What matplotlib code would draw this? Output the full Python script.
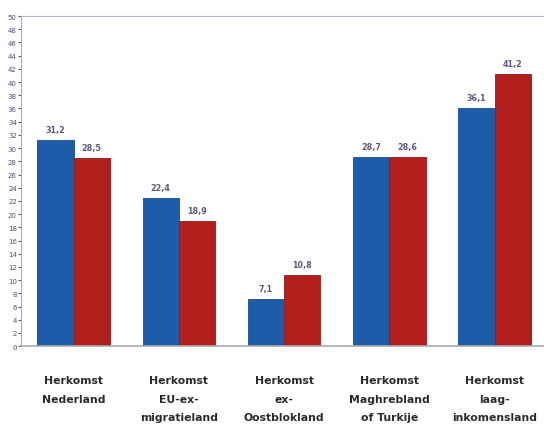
import numpy as np
import matplotlib.pyplot as plt

categories = ['Herkomst\nNederland', 'Herkomst\nEU-ex-\nmigratieland', 'Herkomst\nex-\nOostblokland',
              'Herkomst\nMaghrebland\nof Turkije', 'Herkomst\nlaag-\ninkomensland']
blue_vals = [31.2, 22.4, 7.1, 28.7, 36.1]
red_vals = [28.5, 18.9, 10.8, 28.6, 41.2]
blue_labels = ['31,2', '22,4', '7,1', '28,7', '36,1']
red_labels = ['28,5', '18,9', '10,8', '28,6', '41,2']

fig = plt.figure(figsize=(5.44, 4.27), dpi=100)
ax = fig.add_axes([0.0386, 0.187, 0.9614, 0.773])

x = np.arange(len(categories))
w = 0.345
b1 = ax.bar(x - w / 2, blue_vals, w, color='#1d5ca8', edgecolor='#184d8e', linewidth=0.6)
b2 = ax.bar(x + w / 2, red_vals, w, color='#b21f1c', edgecolor='#951815', linewidth=0.6)

for rect, lab in zip(b1, blue_labels):
    ax.text(rect.get_x() + rect.get_width() / 2, rect.get_height() + 0.9, lab,
            ha='center', va='bottom', fontsize=5.8, color='#5a5a80', fontweight='bold')
for rect, lab in zip(b2, red_labels):
    ax.text(rect.get_x() + rect.get_width() / 2, rect.get_height() + 0.9, lab,
            ha='center', va='bottom', fontsize=5.8, color='#5a5a80', fontweight='bold')

ax.set_ylim(0, 50)
ax.set_xlim(-0.5, 4.47)
ax.set_yticks(np.arange(0, 51, 2))
ax.tick_params(axis='y', labelsize=5, colors='#50507a', length=2, pad=1)
ax.tick_params(axis='x', length=0)
ax.set_xticks([])

for i, c in enumerate(categories):
    ax.text(x[i], -4.4, c, ha='center', va='top', fontsize=7.8, fontweight='bold',
            color='#2a2a2a', linespacing=2.05, transform=ax.transData, clip_on=False)

ax.spines['right'].set_visible(False)
ax.spines['top'].set_color('#b8b0c8')
ax.spines['left'].set_color('#8fb6d0')
ax.spines['bottom'].set_color('#aaaaaa')
ax.spines['bottom'].set_linewidth(1.2)

fig.savefig('out.png', dpi=100)
